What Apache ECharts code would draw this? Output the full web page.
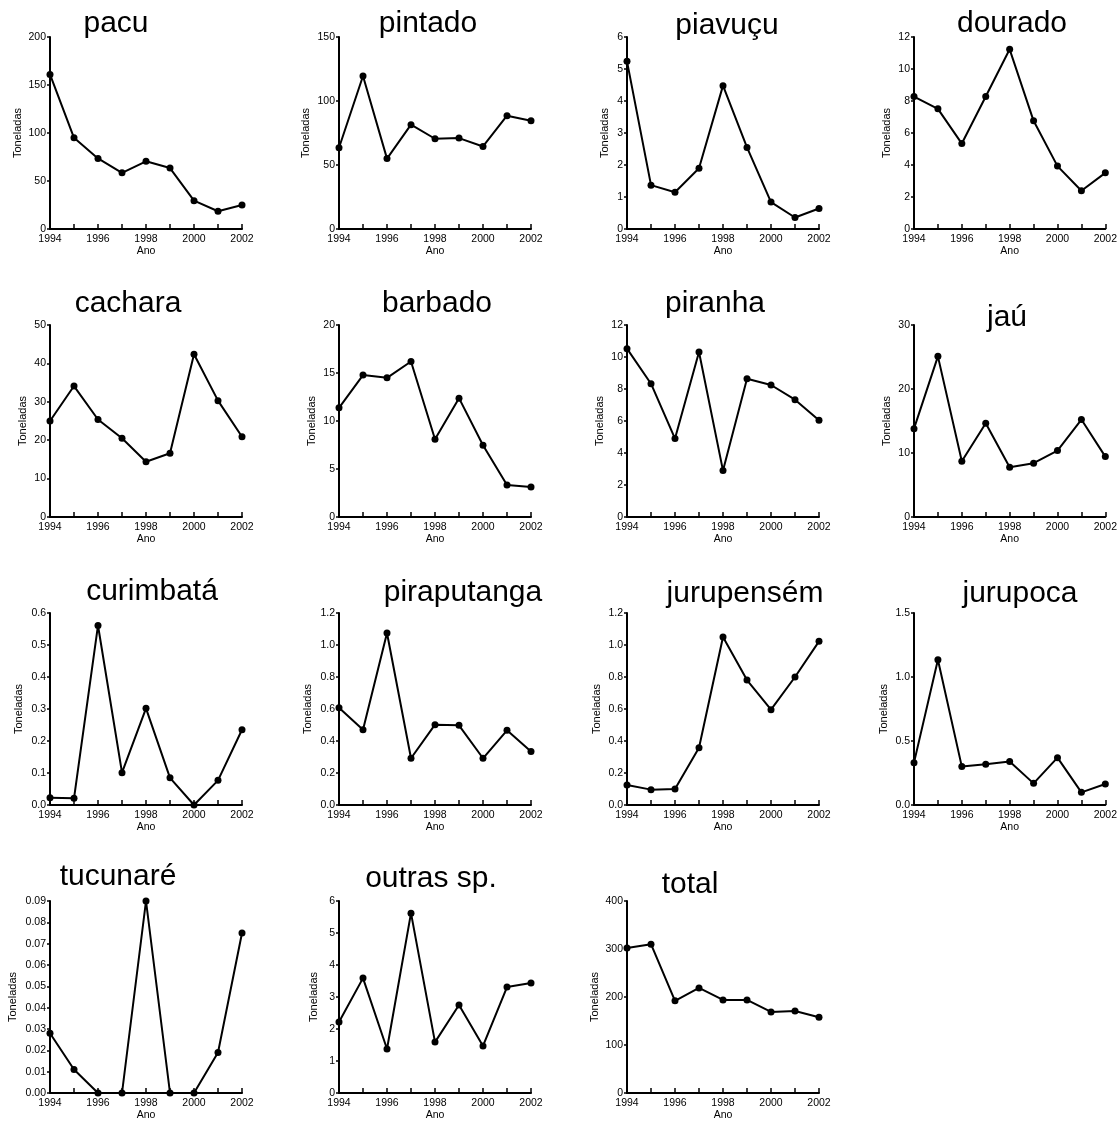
<!DOCTYPE html>
<html>
<head>
<meta charset="utf-8">
<script src="https://cdn.jsdelivr.net/npm/echarts@6/dist/echarts.min.js"></script>
<style>
html,body{margin:0;padding:0;background:#fff;}
#c{width:1120px;height:1123px;}
</style>
</head>
<body>
<div id="c"></div>
<script>
// ---- data ----
const years = [1994, 1995, 1996, 1997, 1998, 1999, 2000, 2001, 2002];
const speciesNames = ['pacu','pintado','piavuçu','dourado','cachara','barbado','piranha','jaú','curimbatá','piraputanga','jurupensém','jurupoca','tucunaré','outras sp.','total'];
const pacu        = [161, 95, 73.5, 58.5, 70.5, 63.5, 29.5, 18.5, 25];
const pintado     = [63.5, 119.5, 55, 81.5, 70.5, 71, 64.5, 88.5, 84.5];
const piavucu     = [5.24, 1.37, 1.15, 1.9, 4.48, 2.55, 0.84, 0.36, 0.64];
const dourado     = [8.28, 7.51, 5.34, 8.28, 11.23, 6.76, 3.93, 2.39, 3.51];
const cachara     = [25, 34.1, 25.4, 20.5, 14.4, 16.6, 42.4, 30.3, 20.9];
const barbado     = [11.37, 14.78, 14.5, 16.2, 8.1, 12.38, 7.48, 3.34, 3.13];
const piranha     = [10.52, 8.33, 4.9, 10.31, 2.9, 8.64, 8.25, 7.33, 6.05];
const jau         = [13.8, 25.1, 8.7, 14.66, 7.77, 8.4, 10.38, 15.23, 9.44];
const curimbata   = [0.023, 0.021, 0.561, 0.101, 0.302, 0.085, 0, 0.077, 0.235];
const piraputanga = [0.608, 0.471, 1.075, 0.292, 0.502, 0.498, 0.292, 0.467, 0.335];
const jurupensem  = [0.125, 0.096, 0.1, 0.358, 1.05, 0.781, 0.596, 0.8, 1.023];
const jurupoca    = [0.331, 1.135, 0.3, 0.318, 0.339, 0.169, 0.37, 0.099, 0.164];
const tucunare    = [0.028, 0.011, 0, 0, 0.09, 0, 0, 0.019, 0.075];
const outras      = [2.22, 3.59, 1.375, 5.62, 1.59, 2.75, 1.47, 3.31, 3.44];
const total       = [302, 310, 192, 219, 194, 194, 169, 171, 158];
const seriesValues = [pacu, pintado, piavucu, dourado, cachara, barbado, piranha, jau, curimbata, piraputanga, jurupensem, jurupoca, tucunare, outras, total];
// y-axis tick setup: max, interval, decimals
const yMax      = [200, 150, 6, 12, 50, 20, 12, 30, 0.6, 1.2, 1.2, 1.5, 0.09, 6, 400];
const yInterval = [50, 50, 1, 2, 10, 5, 2, 10, 0.1, 0.2, 0.2, 0.5, 0.01, 1, 100];
const yDecimals = [0, 0, 0, 0, 0, 0, 0, 0, 1, 1, 1, 1, 2, 0, 0];
const xAxisName = 'Ano';
const yAxisName = 'Toneladas';

// ---- layout ----
const colLeft = [50, 339, 627, 914];
const rowTop = [37, 325, 613, 901];
const plotW = 192, plotH = 192;
const titleCx = [116, 428, 727, 1012, 128, 437, 715, 1007, 152, 463, 745, 1020, 118, 431, 690];
const titleBase = [34, 34, 36, 34, 314, 314, 314, 328, 602, 603, 604, 604, 887, 889, 895];
const nameGaps = [27, 28, 17, 21.5, 21.7, 22, 21.7, 21.6, 25.7, 26, 25, 24.3, 32, 20, 27];

const FONT = '"Liberation Sans", Arial, Helvetica, sans-serif';
const grids = [], xAxes = [], yAxes = [], series = [], graphics = [];
speciesNames.forEach((name, i) => {
  const r = Math.floor(i / 4), c = i % 4;
  grids.push({left: colLeft[c], top: rowTop[r], width: plotW, height: plotH, containLabel: false});
  xAxes.push({
    type: 'value', gridIndex: i, min: 1994, max: 2002, interval: 1,
    name: xAxisName, nameLocation: 'middle', nameGap: 16,
    nameTextStyle: {fontFamily: FONT, fontSize: 10.5, color: '#000'},
    axisLine: {show: true, lineStyle: {color: '#000', width: 2}},
    axisTick: {show: true, inside: true, length: 5, lineStyle: {color: '#000', width: 1.5}},
    axisLabel: {show: true, margin: 5, fontFamily: FONT, fontSize: 10.5, color: '#000',
      formatter: v => (v % 2 === 0 ? String(v) : '')},
    splitLine: {show: false}
  });
  const dec = yDecimals[i];
  yAxes.push({
    type: 'value', gridIndex: i, min: 0, max: yMax[i], interval: yInterval[i],
    name: yAxisName, nameLocation: 'middle', nameGap: nameGaps[i], nameRotate: 90,
    nameTextStyle: {fontFamily: FONT, fontSize: 11, color: '#000'},
    axisLine: {show: true, lineStyle: {color: '#000', width: 2}},
    axisTick: {show: true, inside: false, length: 3, lineStyle: {color: '#000', width: 1.5}},
    axisLabel: {show: true, margin: 4, fontFamily: FONT, fontSize: 10.5, color: '#000',
      formatter: v => v.toFixed(dec)},
    splitLine: {show: false}
  });
  series.push({
    type: 'line', xAxisIndex: i, yAxisIndex: i,
    data: years.map((y, k) => [y, seriesValues[i][k]]),
    symbol: 'circle', symbolSize: 7, clip: false,
    lineStyle: {color: '#000', width: 2},
    itemStyle: {color: '#000'},
    animation: false
  });
  graphics.push({
    type: 'text', x: titleCx[i], y: titleBase[i] - 10.5,
    style: {text: name, font: '30px ' + FONT, fill: '#000',
      textAlign: 'center', textVerticalAlign: 'middle', align: 'center', verticalAlign: 'middle'}
  });
});

const chart = echarts.init(document.getElementById('c'), null, {renderer: 'canvas'});
chart.setOption({
  animation: false,
  backgroundColor: '#fff',
  grid: grids, xAxis: xAxes, yAxis: yAxes, series: series,
  graphic: graphics
});
</script>
</body>
</html>
